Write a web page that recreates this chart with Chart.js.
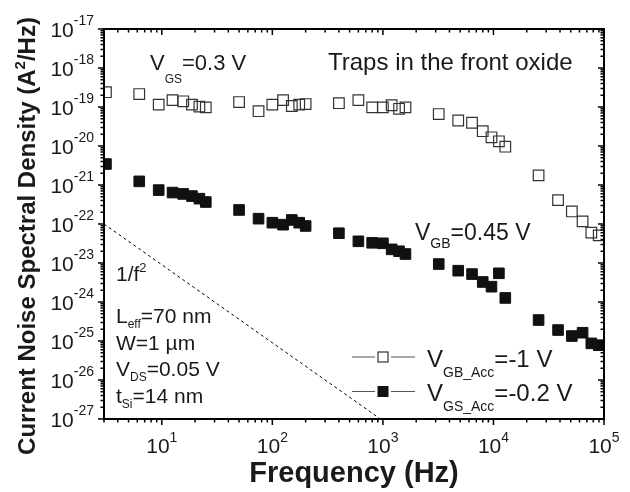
<!DOCTYPE html>
<html>
<head>
<meta charset="utf-8">
<script src="https://cdn.jsdelivr.net/npm/chart.js@4"></script>
<style>
  html, body { margin: 0; padding: 0; background: #fff; }
  canvas { display: block; }
</style>
</head>
<body>
<canvas id="noiseChart" width="630" height="492"></canvas>
<script>
const FONT = '"Liberation Sans", Arial, Helvetica, sans-serif';
const INK = '#1a1a1a';

// FFT bin frequencies (Hz)
const frequencies = [3.125, 6.25, 9.375, 12.5, 15.625, 18.75, 21.875, 25,
    50, 75, 100, 125, 150, 175, 200,
    400, 600, 800, 1000, 1200, 1400, 1600,
    3200, 4800, 6400, 8000, 9600, 11200, 12800,
    25600, 38400, 51200, 64000, 76800, 89600];

// V_GB_Acc = -1 V (open squares)
const noiseGBAcc = [2.4e-19, 2.15e-19, 1.15e-19, 1.5e-19, 1.4e-19, 1.15e-19, 1.02e-19, 9.8e-20,
    1.34e-19, 7.8e-20, 1.15e-19, 1.5e-19, 1.06e-19, 1.15e-19, 1.19e-19,
    1.25e-19, 1.5e-19, 9.8e-20, 9.8e-20, 1.11e-19, 9.0e-20, 9.8e-20,
    6.6e-20, 4.5e-20, 3.95e-20, 2.4e-20, 1.67e-20, 1.32e-20, 9.6e-21,
    1.77e-21, 4.1e-22, 2.1e-22, 1.17e-22, 6.0e-23, 5.1e-23];

// V_GS_Acc = -0.2 V (filled squares)
const noiseGSAcc = [3.45e-21, 1.24e-21, 7.4e-22, 6.4e-22, 5.9e-22, 5.2e-22, 4.46e-22, 3.66e-22,
    2.29e-22, 1.37e-22, 1.08e-22, 9.6e-23, 1.27e-22, 1.08e-22, 8.9e-23,
    5.8e-23, 3.6e-23, 3.3e-23, 3.2e-23, 2.24e-23, 2.0e-23, 1.7e-23,
    9.4e-24, 6.35e-24, 5.2e-24, 3.26e-24, 2.47e-24, 5.45e-24, 1.27e-24,
    3.45e-25, 1.91e-25, 1.34e-25, 1.63e-25, 8.7e-26, 7.8e-26];

// 1/f^2 guide line end points
const slopeX = [3, 950];
const slopeY = [1e-22, 1e-27];

// axis decades
const xTickExps = [1, 2, 3, 4, 5];
const yTickExps = [-17, -18, -19, -20, -21, -22, -23, -24, -25, -26, -27];

const toPoints = (xs, ys) => xs.map((x, i) => ({ x: x, y: ys[i] }));

// draw a run of text pieces: [text, size, dy, bold]
function drawRuns(ctx, x, y, parts, align) {
    const fontOf = p => (p[3] ? 'bold ' : '') + p[1] + 'px ' + FONT;
    const widths = parts.map(p => { ctx.font = fontOf(p); return ctx.measureText(p[0]).width; });
    const total = widths.reduce((a, b) => a + b, 0);
    let cx = align === 'right' ? x - total : align === 'center' ? x - total / 2 : x;
    parts.forEach((p, i) => {
        ctx.font = fontOf(p);
        ctx.fillText(p[0], cx, y + (p[2] || 0));
        cx += widths[i];
    });
}

const framePlugin = {
    id: 'frame',
    afterDatasetsDraw(chart) {
        const ctx = chart.ctx;
        const { left, right, top, bottom } = chart.chartArea;
        const xs = chart.scales.x, ys = chart.scales.y;
        ctx.save();
        ctx.strokeStyle = '#000';
        ctx.fillStyle = INK;
        ctx.textBaseline = 'alphabetic';
        ctx.textAlign = 'left';

        // frame
        ctx.lineWidth = 2;
        ctx.strokeRect(left, top, right - left, bottom - top);

        // x ticks
        ctx.lineWidth = 1.5;
        const xMinor = [];
        for (let e = 0; e < 5; e++) {
            for (let m = 2; m <= 9; m++) {
                const v = m * Math.pow(10, e);
                if (v >= 3 && v < 1e5) xMinor.push(v);
            }
        }
        const xTick = (v, len) => {
            const px = xs.getPixelForValue(v);
            ctx.beginPath();
            ctx.moveTo(px, bottom); ctx.lineTo(px, bottom + len);
            ctx.moveTo(px, top); ctx.lineTo(px, top + len);
            ctx.stroke();
        };
        xMinor.forEach(v => xTick(v, 3.5));
        xTickExps.forEach(e => xTick(Math.pow(10, e), 6));

        // y ticks
        const yTick = (v, len) => {
            const py = ys.getPixelForValue(v);
            ctx.beginPath();
            ctx.moveTo(left, py); ctx.lineTo(left - len, py);
            ctx.moveTo(right, py); ctx.lineTo(right - len, py);
            ctx.stroke();
        };
        yTickExps.forEach(e => {
            if (e > -17) return;
            for (let m = 2; m <= 9 && e < -17; m++) yTick(m * Math.pow(10, e), 3.5);
            yTick(Math.pow(10, e), 6);
        });

        // tick labels
        xTickExps.forEach(e => {
            const px = xs.getPixelForValue(Math.pow(10, e));
            drawRuns(ctx, px, 452.5, [['10', 21, 0], [String(e), 14, -10.5]], 'center');
        });
        yTickExps.forEach(e => {
            const py = ys.getPixelForValue(Math.pow(10, e));
            drawRuns(ctx, 94, py + 7.5, [['10', 21, 0], [String(e), 14, -12]], 'right');
        });

        // axis titles
        drawRuns(ctx, (left + right) / 2, 482, [['Frequency (Hz)', 29, 0, true]], 'center');
        ctx.save();
        ctx.translate(35, 236);
        ctx.rotate(-Math.PI / 2);
        drawRuns(ctx, 0, 0, [['Current Noise Spectral Density (A', 24, 0, true], ['2', 15, -10, true], ['/Hz)', 24, 0, true]], 'center');
        ctx.restore();

        // annotations
        drawRuns(ctx, 150, 70, [['V', 22, 0], ['GS', 12, 13], ['=0.3 V', 22, 0]]);
        drawRuns(ctx, 328, 70, [['Traps in the front oxide', 24, 0]]);
        drawRuns(ctx, 415, 240, [['V', 23, 0], ['GB', 14, 8], ['=0.45 V', 23, 0]]);
        drawRuns(ctx, 116, 281, [['1/f', 21, 0], ['2', 13, -9.5]]);
        drawRuns(ctx, 116, 323, [['L', 21, 0], ['eff', 12, 4.5], ['=70 nm', 21, 0]]);
        drawRuns(ctx, 116, 350, [['W=1 \u00b5m', 21, 0]]);
        drawRuns(ctx, 116, 376, [['V', 21, 0], ['DS', 12, 5], ['=0.05 V', 21, 0]]);
        drawRuns(ctx, 116, 403, [['t', 21, 0], ['Si', 12, 5], ['=14 nm', 21, 0]]);

        // legend
        const rows = [
            { cy: 357, base: 366.5, sub: 'GB_Acc', val: '=-1 V', filled: false },
            { cy: 391.5, base: 401, sub: 'GS_Acc', val: '=-0.2 V', filled: true }
        ];
        rows.forEach(r => {
            ctx.strokeStyle = '#555';
            ctx.lineWidth = 1;
            ctx.beginPath();
            ctx.moveTo(352, r.cy); ctx.lineTo(375, r.cy);
            ctx.moveTo(391, r.cy); ctx.lineTo(415, r.cy);
            ctx.stroke();
            if (r.filled) {
                ctx.fillStyle = '#111';
                ctx.fillRect(377.5, r.cy - 5.5, 11, 11);
            } else {
                ctx.strokeStyle = '#333';
                ctx.lineWidth = 1.2;
                ctx.strokeRect(378, r.cy - 5, 10, 10);
            }
            ctx.fillStyle = INK;
            drawRuns(ctx, 427, r.base, [['V', 24, 0], [r.sub, 14, 10], [r.val, 24, 0]]);
        });
        ctx.restore();
    }
};

new Chart(document.getElementById('noiseChart'), {
    type: 'scatter',
    data: {
        datasets: [
            {
                type: 'line',
                label: '1/f^2',
                data: toPoints(slopeX, slopeY),
                borderColor: '#000',
                borderWidth: 1,
                borderDash: [3, 3],
                pointRadius: 0,
                fill: false,
                clip: 0
            },
            {
                label: 'V_GB_Acc=-1 V',
                data: toPoints(frequencies, noiseGBAcc),
                pointStyle: 'rect',
                pointRadius: 7.5,
                backgroundColor: 'rgba(0,0,0,0)',
                borderColor: '#333',
                borderWidth: 1.2,
                clip: 0
            },
            {
                label: 'V_GS_Acc=-0.2 V',
                data: toPoints(frequencies, noiseGSAcc),
                pointStyle: 'rect',
                pointRadius: 7.5,
                backgroundColor: '#111',
                borderColor: '#111',
                borderWidth: 1,
                clip: 0
            }
        ]
    },
    options: {
        responsive: false,
        animation: false,
        devicePixelRatio: 1,
        events: [],
        layout: { padding: { left: 104, top: 29, right: 26, bottom: 73 } },
        scales: {
            x: { type: 'logarithmic', min: 3, max: 1e5, display: false },
            y: { type: 'logarithmic', min: 1e-27, max: 1e-17, display: false }
        },
        plugins: {
            legend: { display: false },
            tooltip: { enabled: false }
        }
    },
    plugins: [framePlugin]
});
</script>
</body>
</html>
